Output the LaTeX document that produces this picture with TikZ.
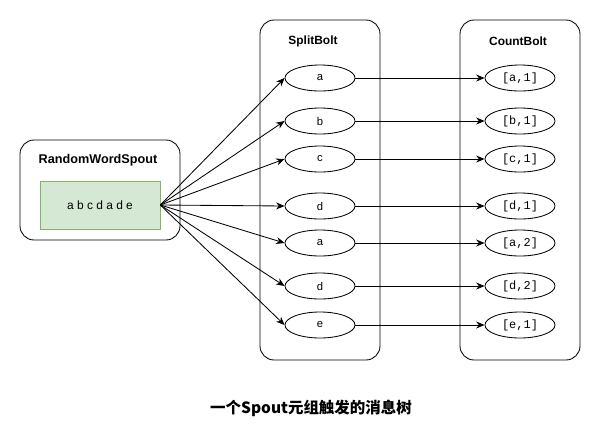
\documentclass[tikz,border=0pt]{standalone}
\usepackage{fontspec}
\setmainfont{Liberation Sans}
\setmonofont{Liberation Mono}
\newfontfamily\cjk{Noto Sans CJK SC}
\usetikzlibrary{shapes.geometric,arrows.meta}
\definecolor{wordsfill}{RGB}{213,232,212}
\definecolor{wordsline}{RGB}{130,179,102}

\tikzset{
  box/.style={draw,rounded corners=10pt,line width=0.6pt},
  word/.style={draw,ellipse,line width=0.6pt,minimum width=1.75cm,minimum height=0.65cm,inner sep=0pt,font=\fontsize{8}{9}\selectfont},
  tuple/.style={word,font=\ttfamily\fontsize{8.5}{9}\selectfont},
  head/.style={font=\bfseries\fontsize{8.5}{10}\selectfont},
  flow/.style={-{Stealth[length=6pt,width=5pt]},line width=0.6pt},
}

\begin{document}
\begin{tikzpicture}[x=0.025cm,y=-0.025cm]
\useasboundingbox (0,0) rectangle (601,436);
% containers
\draw[box] (20,140) rectangle (180,240);
\draw[box] (260,20) rectangle (380,360);
\draw[box] (460,20) rectangle (580,360);
\node[head,font=\bfseries\fontsize{9}{10}\selectfont] (spout) at (98,160) {RandomWordSpout};
\node[head] (split) at (313,41) {SplitBolt};
\node[head] (count) at (518,41) {CountBolt};
\node[draw=wordsline,fill=wordsfill,minimum width=3cm,minimum height=1.2cm,font=\fontsize{8.5}{9}\selectfont] (words) at (100,205) {a\ b\ c\ d\ a\ d\ e};
% split words
\node[word] (s1) at (320,78) {a};
\node[word] (s2) at (320,121) {b};
\node[word] (s3) at (320,159) {c};
\node[word] (s4) at (320,206) {d};
\node[word] (s5) at (320,243) {a};
\node[word] (s6) at (320,286) {d};
\node[word] (s7) at (320,325) {e};
% counts
\node[tuple] (c1) at (520,78) {[a,1]};
\node[tuple] (c2) at (520,121) {[b,1]};
\node[tuple] (c3) at (520,159) {[c,1]};
\node[tuple] (c4) at (520,206) {[d,1]};
\node[tuple] (c5) at (520,243) {[a,2]};
\node[tuple] (c6) at (520,286) {[d,2]};
\node[tuple] (c7) at (520,325) {[e,1]};
\foreach \i in {1,...,7} {
  \draw[flow] (words.east) -- (s\i.west);
  \draw[flow] (s\i.east) -- (c\i.west);
}
\node[font=\cjk\bfseries\fontsize{11}{13}\selectfont] (title) at (311,408) {一个Spout元组触发的消息树};
\end{tikzpicture}
\end{document}
